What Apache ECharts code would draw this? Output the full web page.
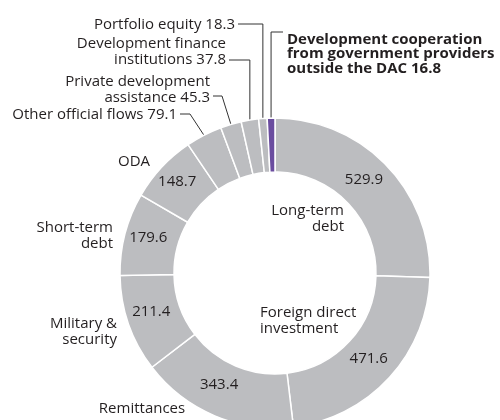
<!DOCTYPE html>
<html>
<head>
<meta charset="utf-8">
<script src="https://cdn.jsdelivr.net/npm/echarts@6/dist/echarts.min.js"></script>
<style>
  html, body { margin: 0; padding: 0; background: #fff; }
  #main { width: 500px; height: 420px; }
</style>
</head>
<body>
<div id="main"></div>
<script>
// flows, clockwise from 12 o'clock
var names = ['Long-term\ndebt', 'Foreign direct\ninvestment', 'Remittances', 'Military &\nsecurity',
  'Short-term\ndebt', 'ODA', 'Other official flows', 'Private development\nassistance',
  'Development finance\ninstitutions', 'Portfolio equity',
  'Development cooperation\nfrom government providers\noutside the DAC'];
var values = [529.9, 471.6, 343.4, 211.4, 179.6, 148.7, 79.1, 45.3, 37.8, 18.3, 16.8];
var valueInRing = [true, true, true, true, true, true, false, false, false, false, false];
var highlight = [false, false, false, false, false, false, false, false, false, false, true];

var cx = 275, cy = 273, r0 = 101, r1 = 155;
var grey = '#bcbdc0', purple = '#6a4c9f', ink = '#231f20';

// nudges for the numbers inside the ring
var valueNudge = [[-5, -2], [-3, -3], [-5, -9], [0, -4], [0, -2], [-2, -2]];
// where the names go; small slices get a leader line (knee x, line y, line end x)
var nameSpots = [
  { x: 344, y: 219, align: 'right' },
  { x: 260, y: 321, align: 'left' },
  { x: 142, y: 409, align: 'center' },
  { x: 117, y: 332, align: 'right' },
  { x: 113, y: 236, align: 'right' },
  { x: 134, y: 162, align: 'center' },
  { x: 177, y: 115, align: 'right', kx: 190, ly: 114, end: 180 },
  { x: 210, y: 90, align: 'right', kx: 222, ly: 96, end: 213 },
  { x: 226, y: 52, align: 'right', kx: null, ly: 60, end: 229 },
  { x: 235, y: 25, align: 'right', kx: null, ly: 24, end: 238 },
  { x: 287, y: 54, align: 'left', kx: null, ly: 32, end: 283 }
];

var total = values.reduce(function (a, b) { return a + b; }, 0);
function edgePoint(i) {
  var s = 0;
  for (var k = 0; k < i; k++) s += values[k];
  var a = (s + values[i] / 2) / total * Math.PI * 2;
  return [cx + r1 * Math.sin(a), cy - r1 * Math.cos(a)];
}

var ringData = [], nameData = [];
for (var i = 0; i < values.length; i++) {
  ringData.push({
    name: names[i],
    value: values[i],
    itemStyle: { color: highlight[i] ? purple : grey },
    label: { show: valueInRing[i] }
  });
  nameData.push({
    name: names[i],
    value: values[i],
    label: highlight[i] ? { fontWeight: 'bold', lineHeight: 14.5 } : {},
    labelLine: { show: !valueInRing[i] }
  });
}

var chart = echarts.init(document.getElementById('main'));
chart.setOption({
  animation: false,
  series: [{
    type: 'pie',
    center: [cx, cy],
    radius: [r0, r1],
    silent: true,
    emphasis: { disabled: true },
    itemStyle: { borderColor: '#fff', borderWidth: 1.5 },
    label: {
      position: 'inside',
      rotate: 0,
      fontFamily: 'Open Sans',
      fontSize: 15,
      color: ink,
      formatter: function (p) { return p.value.toFixed(1); }
    },
    labelLayout: function (p) {
      var n = valueNudge[p.dataIndex] || [0, 0];
      return { dx: n[0], dy: n[1] };
    },
    data: ringData
  }, {
    type: 'pie',
    center: [cx, cy],
    radius: [r0, r1],
    silent: true,
    emphasis: { disabled: true },
    itemStyle: { color: 'rgba(0,0,0,0)', borderWidth: 0 },
    label: {
      position: 'outside',
      width: 260,
      fontFamily: 'Open Sans',
      fontSize: 15,
      lineHeight: 16,
      color: ink,
      formatter: function (p) {
        return valueInRing[p.dataIndex] ? p.name : p.name + ' ' + p.value.toFixed(1);
      }
    },
    labelLine: { lineStyle: { color: '#333', width: 1 } },
    labelLayout: function (p) {
      var s = nameSpots[p.dataIndex];
      var out = { x: s.x, y: s.y, align: s.align, verticalAlign: 'middle' };
      if (s.end != null) {
        var e = edgePoint(p.dataIndex);
        var kx = s.kx != null ? s.kx : e[0];
        out.labelLinePoints = [e, [kx, s.ly], [s.end, s.ly]];
      }
      return out;
    },
    data: nameData
  }]
});
</script>
</body>
</html>
